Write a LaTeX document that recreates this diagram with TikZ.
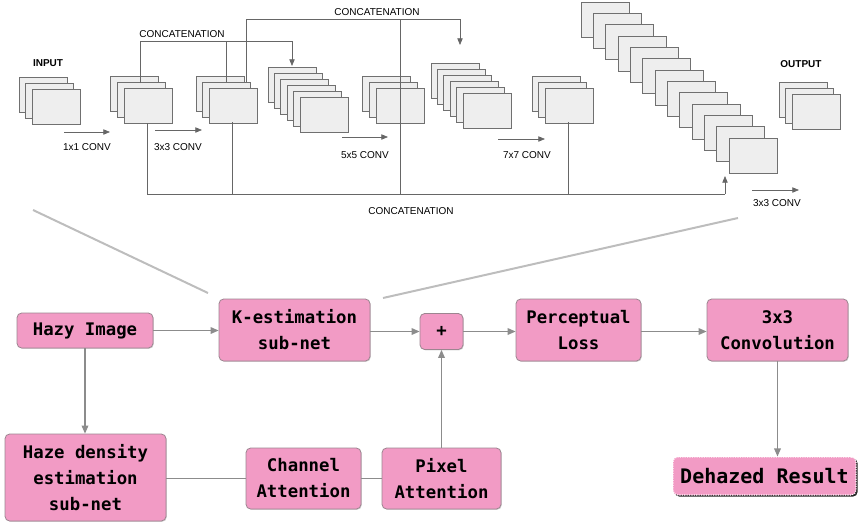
\documentclass[tikz,border=0pt]{standalone}
\usepackage{fontspec}
\usetikzlibrary{arrows.meta,shadows}
\newfontfamily\labfont{Liberation Sans}
\newfontfamily\monofont{DejaVu Sans Mono}
\definecolor{boxpink}{HTML}{F29BC5}
\definecolor{boxedge}{HTML}{9C8590}
\definecolor{mapfill}{HTML}{EEEEEE}
\definecolor{mapedge}{HTML}{707070}
\definecolor{linegray}{HTML}{666666}
\definecolor{flowgray}{HTML}{8C8C8C}
\definecolor{diaggray}{HTML}{BDBDBD}
\newcommand\drawstack[5]{%
  \foreach \i in {1,...,#3}{%
    \draw[fmap] ({#1+(\i-1)*#4},{#2+(\i-1)*#5}) rectangle ++(48,35);}}
\begin{document}
\begin{tikzpicture}[x=0.75pt,y=-0.75pt,
  fmap/.style={fill=mapfill,draw=mapedge,line width=0.6pt},
  cline/.style={draw=linegray,line width=0.6pt},
  carrow/.style={cline,-{Triangle[length=5pt,width=4pt]}},
  lab/.style={font=\labfont\fontsize{7.5}{9}\selectfont,inner sep=0pt},
  blab/.style={font=\labfont\bfseries\fontsize{7.5}{9}\selectfont,inner sep=0pt},
  pbox/.style={fill=boxpink,draw=boxedge,line width=0.6pt,rounded corners=3.5pt,
    align=center,inner sep=0pt,
    font=\monofont\bfseries\fontsize{13}{19.5}\selectfont,
    drop shadow={shadow xshift=0.6pt,shadow yshift=-0.6pt,opacity=0.35}},
  flow/.style={draw=flowgray,line width=0.9pt,-{Triangle[length=6pt,width=5pt]}},
  flowplain/.style={draw=flowgray,line width=0.9pt}]
\useasboundingbox (0,0) rectangle (858,525);

% ---------- top: feature map stacks ----------
\drawstack{19}{77}{3}{6.5}{6}
\drawstack{110}{76}{3}{7}{6}
\drawstack{196}{76}{3}{6.5}{6}
\drawstack{268}{67}{6}{6.4}{6}
\drawstack{362}{76}{3}{7}{6}
\drawstack{431}{63}{6}{6.4}{6}
\drawstack{532}{76}{3}{6.5}{6}
\drawstack{581}{2}{13}{12.33}{11.33}
\drawstack{779}{82}{3}{6.5}{6}

\node[blab] (inlab) at (48,63) {INPUT};
\node[blab] (outlab) at (801,64) {OUTPUT};

% conv arrows
\coordinate (a1s) at (64,132);  \coordinate (a1e) at (110,132);
\coordinate (a2s) at (155,130); \coordinate (a2e) at (202,130);
\coordinate (a3s) at (342,137); \coordinate (a3e) at (388,137);
\coordinate (a4s) at (498,139); \coordinate (a4e) at (545,139);
\coordinate (a5s) at (752,190); \coordinate (a5e) at (799,190);
\draw[carrow] (a1s) -- (a1e);
\draw[carrow] (a2s) -- (a2e);
\draw[carrow] (a3s) -- (a3e);
\draw[carrow] (a4s) -- (a4e);
\draw[carrow] (a5s) -- (a5e);
\node[lab] (c1) at (87,147) {1x1 CONV};
\node[lab] (c2) at (178,147) {3x3 CONV};
\node[lab] (c3) at (365,155) {5x5 CONV};
\node[lab] (c4) at (527,155) {7x7 CONV};
\node[lab] (c5) at (777,203) {3x3 CONV};

% concatenation 1
\coordinate (k1a) at (140,83);
\coordinate (k1b) at (226,82);
\coordinate (k1t) at (292,41);
\coordinate (k1e) at (292,66);
\draw[cline] (k1a) |- (k1t);
\draw[cline] (k1b) -- (226,41);
\draw[carrow] (k1t) -- (k1e);
\node[lab] (cc1) at (182,34) {CONCATENATION};

% concatenation 2
\coordinate (k2a) at (246,82);
\coordinate (k2t) at (460,19);
\coordinate (k2e) at (460,45);
\draw[cline] (k2a) |- (k2t);
\draw[carrow] (k2t) -- (k2e);
\draw[cline] (400,19) -- (400,194);
\node[lab] (cc2) at (377,12) {CONCATENATION};

% bottom concatenation
\coordinate (b1) at (147,123);
\coordinate (bc) at (725,194);
\coordinate (be) at (725,176);
\draw[cline] (b1) |- (bc);
\draw[carrow] (bc) -- (be);
\draw[cline] (232,122) -- (232,194);
\draw[cline] (568,122) -- (568,194);
\node[lab] (cc3) at (411,211) {CONCATENATION};

% zoom lines
\coordinate (z1) at (33,210);  \coordinate (z2) at (208,293);
\coordinate (z3) at (383,298); \coordinate (z4) at (738,218);
\draw[diaggray,line width=1.5pt] (z1) -- (z2);
\draw[diaggray,line width=1.5pt] (z3) -- (z4);

% ---------- bottom: flow ----------
\node[pbox,minimum width=102pt,minimum height=26.25pt] (hazy) at (85,330.5) {Hazy Image};
\node[pbox,minimum width=113.25pt,minimum height=46.5pt] (kest) at (294.5,330) {K-estimation\\sub-net};
\node[pbox,minimum width=32.25pt,minimum height=27pt] (plus) at (441.5,331.5) {+};
\node[pbox,minimum width=93.75pt,minimum height=46.5pt] (perc) at (578.5,330) {Perceptual\\Loss};
\node[pbox,minimum width=105.75pt,minimum height=46.5pt] (conv) at (777.5,330) {3x3\\Convolution};
\node[pbox,minimum width=120.75pt,minimum height=65.25pt] (haze) at (85.5,477.5) {Haze density\\estimation\\sub-net};
\node[pbox,minimum width=86.25pt,minimum height=45.75pt] (chan) at (303.5,478.5) {Channel\\Attention};
\node[pbox,minimum width=89.25pt,minimum height=45.75pt] (pix) at (441.5,478.5) {Pixel\\Attention};
\node[fill=boxpink,draw=white,densely dotted,line width=0.8pt,rounded corners=3.5pt,
  inner sep=0pt,minimum width=137.25pt,minimum height=28.5pt,
  font=\monofont\bfseries\fontsize{15}{18}\selectfont,
  drop shadow={shadow xshift=1.2pt,shadow yshift=-1.2pt,opacity=0.85,fill=black}]
  (dehazed) at (764.5,476) {Dehazed Result};

\draw[flow] (hazy.east) -- (kest.west |- hazy.east);
\draw[flow] (kest.east |- plus.west) -- (plus.west);
\draw[flow] (plus.east) -- (perc.west |- plus.east);
\draw[flow] (perc.east |- plus.east) -- (conv.west |- plus.east);
\draw[flow] (hazy.south) -- (hazy.south |- haze.north);
\draw[flowplain] (haze.east |- chan.west) -- (chan.west);
\draw[flowplain] (chan.east) -- (pix.west);
\draw[flow] (pix.north) -- (plus.south);
\draw[flow] (conv.south) -- (conv.south |- dehazed.north);
\end{tikzpicture}
\end{document}
